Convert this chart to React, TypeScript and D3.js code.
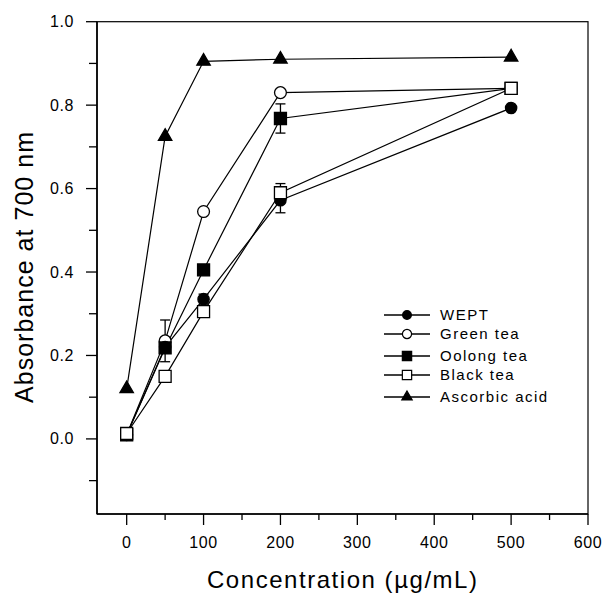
import React from 'react';
import * as d3 from 'd3';

// concentration levels (µg/mL)
const concentrations = [0, 50, 100, 200, 500];

// absorbance at 700 nm
const weptValues = [0.01, 0.22, 0.335, 0.572, 0.793];
const greenTeaValues = [0.01, 0.235, 0.545, 0.83, 0.84];
const oolongTeaValues = [0.01, 0.218, 0.405, 0.768, 0.84];
const blackTeaValues = [0.013, 0.15, 0.305, 0.59, 0.84];
const ascorbicAcidValues = [0.12, 0.725, 0.905, 0.91, 0.915];

// error bars (±)
const weptErrors = [0, 0, 0.012, 0.03, 0];
const greenTeaErrors = [0, 0.05, 0, 0, 0];
const oolongTeaErrors = [0, 0, 0, 0.035, 0];
const blackTeaErrors = [0, 0, 0, 0.022, 0];
const ascorbicAcidErrors = [0, 0, 0, 0, 0];

const seriesNames = ['WEPT', 'Green tea', 'Oolong tea', 'Black tea', 'Ascorbic acid'];

const xTicks = [0, 100, 200, 300, 400, 500, 600];
const xMinorTicks = [50, 150, 250, 350, 450, 550];
const yTicks = [0.0, 0.2, 0.4, 0.6, 0.8, 1.0];
const yMinorTicks = [-0.1, 0.1, 0.3, 0.5, 0.7, 0.9];

const W = 605;
const H = 597;
const left = 97;
const right = 588;
const top = 21.7;
const bottom = 514;
const font = '"Liberation Sans", Arial, Helvetica, sans-serif';

type Series = {
  name: string;
  values: number[];
  errors: number[];
  shape: 'circle' | 'square' | 'triangle';
  filled: boolean;
};

const series: Series[] = [
  { name: seriesNames[4], values: ascorbicAcidValues, errors: ascorbicAcidErrors, shape: 'triangle', filled: true },
  { name: seriesNames[1], values: greenTeaValues, errors: greenTeaErrors, shape: 'circle', filled: false },
  { name: seriesNames[0], values: weptValues, errors: weptErrors, shape: 'circle', filled: true },
  { name: seriesNames[2], values: oolongTeaValues, errors: oolongTeaErrors, shape: 'square', filled: true },
  { name: seriesNames[3], values: blackTeaValues, errors: blackTeaErrors, shape: 'square', filled: false },
];

const legendOrder = [2, 1, 3, 4, 0];

const symbolPath = (shape: Series['shape'], scale: number, filled: boolean) => {
  if (shape === 'square') return d3.symbol().type(d3.symbolSquare).size(144 * scale)()!;
  if (shape === 'triangle') return d3.symbol().type(d3.symbolTriangle).size(78 * scale)()!;
  return d3.symbol().type(d3.symbolCircle).size((filled ? 100 : 110) * scale)()!;
};

const App = () => {
  const x = d3.scaleLinear().domain([-38.6, 600]).range([left, right]);
  const y = d3.scaleLinear().domain([-0.18, 1.0]).range([bottom, top]);

  const line = d3
    .line<number>()
    .x((_, i) => x(concentrations[i]))
    .y((d) => y(d));

  return (
    <svg width={W} height={H} style={{ position: 'absolute', left: 0, top: 0, background: '#fff' }}>
      {/* frame */}
      <rect x={left} y={top} width={right - left} height={bottom - top} fill="none" stroke="#000" strokeWidth={1.2} />
      <line x1={left} x2={left} y1={top} y2={bottom} stroke="#000" strokeWidth={1.6} />
      <line x1={left} x2={right} y1={bottom} y2={bottom} stroke="#000" strokeWidth={1.6} />

      {/* y ticks */}
      {yTicks.map((t) => (
        <g key={'y' + t}>
          <line x1={left - 11} x2={left} y1={y(t)} y2={y(t)} stroke="#000" strokeWidth={1.3} />
          <text x={74} y={y(t) + 5.5} textAnchor="end" fontFamily={font} fontSize={16} letterSpacing={0.6}>
            {d3.format('.1f')(t)}
          </text>
        </g>
      ))}
      {yMinorTicks.map((t) => (
        <line key={'ym' + t} x1={left - 8} x2={left} y1={y(t)} y2={y(t)} stroke="#000" strokeWidth={1.3} />
      ))}

      {/* x ticks */}
      {xTicks.map((t) => (
        <g key={'x' + t}>
          <line x1={x(t)} x2={x(t)} y1={bottom} y2={bottom + 11} stroke="#000" strokeWidth={1.3} />
          <text x={x(t)} y={548} textAnchor="middle" fontFamily={font} fontSize={16} letterSpacing={0.6}>
            {t}
          </text>
        </g>
      ))}
      {xMinorTicks.map((t) => (
        <line key={'xm' + t} x1={x(t)} x2={x(t)} y1={bottom} y2={bottom + 6} stroke="#000" strokeWidth={1.3} />
      ))}

      {/* axis titles */}
      <text x={342} y={588} textAnchor="middle" fontFamily={font} fontSize={24} textLength={270} lengthAdjust="spacing">
        Concentration (µg/mL)
      </text>
      <text
        transform={`translate(33, ${(132 + 403) / 2}) rotate(-90)`}
        textAnchor="middle"
        fontFamily={font}
        fontSize={25}
        textLength={271}
        lengthAdjust="spacing"
      >
        Absorbance at 700 nm
      </text>

      {/* lines */}
      {series.map((s) => (
        <path key={'l' + s.name} d={line(s.values)!} fill="none" stroke="#000" strokeWidth={1.2} />
      ))}

      {/* error bars and markers */}
      {series.map((s) => (
        <g key={'m' + s.name}>
          {s.values.map((v, i) =>
            s.errors[i] > 0 ? (
              <g key={'e' + i} stroke="#000" strokeWidth={1.3}>
                <line x1={x(concentrations[i])} x2={x(concentrations[i])} y1={y(v - s.errors[i])} y2={y(v + s.errors[i])} />
                <line x1={x(concentrations[i]) - 5} x2={x(concentrations[i]) + 5} y1={y(v - s.errors[i])} y2={y(v - s.errors[i])} />
                <line x1={x(concentrations[i]) - 5} x2={x(concentrations[i]) + 5} y1={y(v + s.errors[i])} y2={y(v + s.errors[i])} />
              </g>
            ) : null
          )}
          {s.values.map((v, i) => (
            <path
              key={'p' + i}
              d={symbolPath(s.shape, 1, s.filled)}
              transform={`translate(${x(concentrations[i])}, ${y(v)})`}
              fill={s.filled ? '#000' : '#fff'}
              stroke="#000"
              strokeWidth={1.3}
            />
          ))}
        </g>
      ))}

      {/* legend */}
      {legendOrder.map((si, row) => {
        const s = series[si];
        const ly = [315, 334, 356, 375, 397][row];
        return (
          <g key={'lg' + s.name}>
            <line x1={384} x2={430} y1={ly} y2={ly} stroke="#000" strokeWidth={1.3} />
            <path
              d={symbolPath(s.shape, 0.6, s.filled)}
              transform={`translate(407, ${ly})`}
              fill={s.filled ? '#000' : '#fff'}
              stroke="#000"
              strokeWidth={1.2}
            />
            <text x={440} y={ly + 5} fontFamily={font} fontSize={15} letterSpacing={1.5}>
              {s.name}
            </text>
          </g>
        );
      })}
    </svg>
  );
};

export default App;
